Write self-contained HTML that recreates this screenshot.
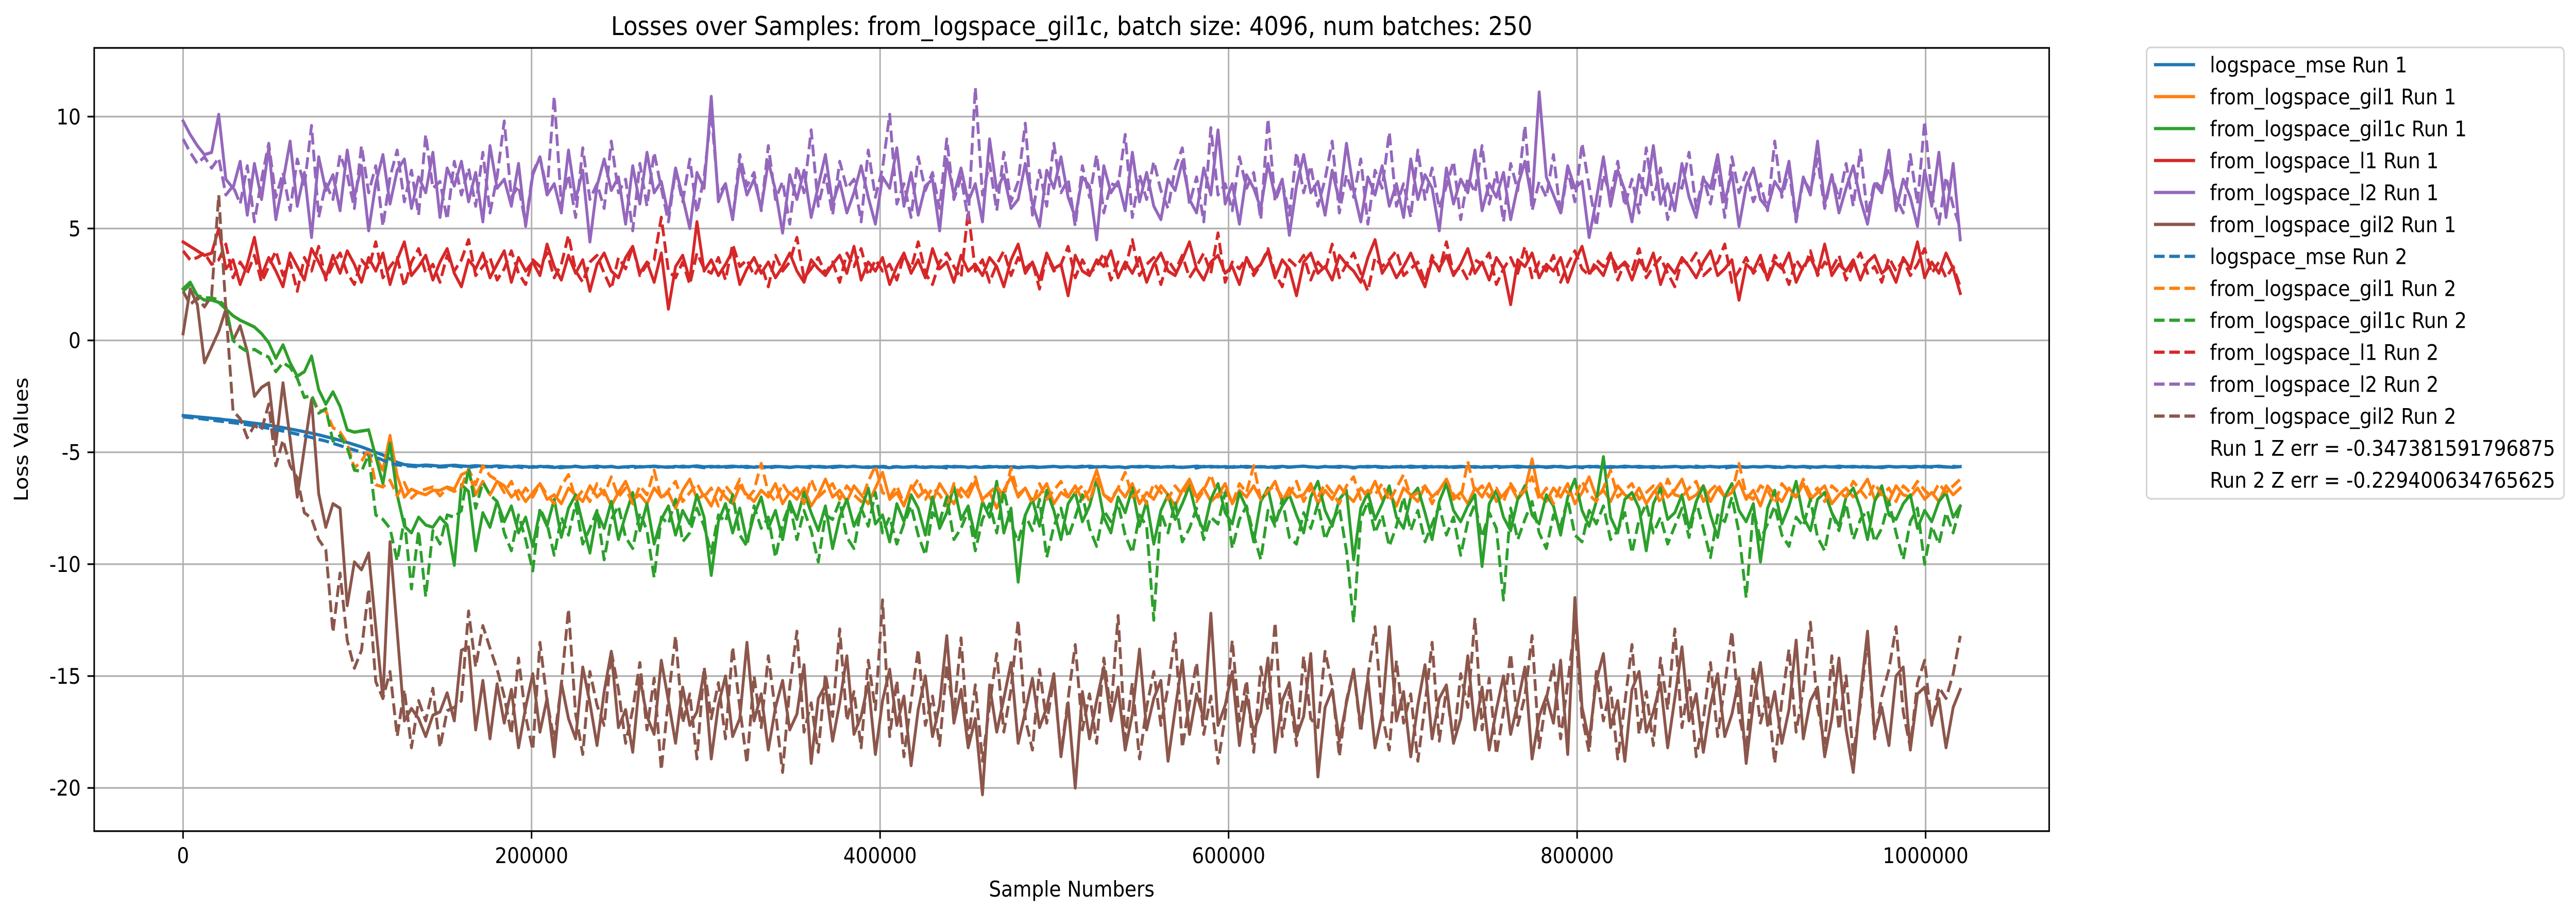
<!DOCTYPE html>
<html><head><meta charset="utf-8"><title>Losses over Samples</title>
<style>html,body{margin:0;padding:0;background:#fff;width:100%;height:100%;overflow:hidden;}svg{display:block;width:100vw;height:100vh;font-family:"DejaVu Sans","Liberation Sans",sans-serif;}</style>
</head><body>
<svg id="chart" xmlns="http://www.w3.org/2000/svg" viewBox="0 0 5579 1768" preserveAspectRatio="none">
<rect x="0" y="0" width="5579" height="1768" fill="#fff"/>
<text x="2321" y="68" font-size="50" text-anchor="middle">Losses over Samples: from_logspace_gil1c, batch size: 4096, num batches: 250</text>
<g id="grid"></g>
<g id="series" clip-path="url(#clip)"></g>
<defs><clipPath id="clip"><rect x="204" y="93" width="4234" height="1520"/></clipPath></defs>
<rect x="204" y="93" width="4234" height="1520" fill="none" stroke="#000" stroke-width="3.3"/>
<g id="ticks"></g>
<text x="2321" y="1740" font-size="41.7" text-anchor="middle">Sample Numbers</text>
<text x="60" y="853" font-size="41.7" text-anchor="middle" transform="rotate(-90 60 853)">Loss Values</text>
<g id="legend">
<rect x="4649" y="92" width="904" height="876" rx="9" fill="#fff" stroke="#d4d4d4" stroke-width="3.3"/>
</g>
</svg>
<script>
const batchSize = 4096;
const xTicks = [0, 200000, 400000, 600000, 800000, 1000000];
const yTicks = [-20, -15, -10, -5, 0, 5, 10];
const seriesNames = ["logspace_mse Run 1","from_logspace_gil1 Run 1","from_logspace_gil1c Run 1","from_logspace_l1 Run 1","from_logspace_l2 Run 1","from_logspace_gil2 Run 1","logspace_mse Run 2","from_logspace_gil1 Run 2","from_logspace_gil1c Run 2","from_logspace_l1 Run 2","from_logspace_l2 Run 2","from_logspace_gil2 Run 2"];
const extraLegend = ["Run 1 Z err = -0.347381591796875","Run 2 Z err = -0.229400634765625"];

const mse1 = [-3.36,-3.39,-3.42,-3.45,-3.48,-3.51,-3.55,-3.58,-3.62,-3.66,-3.7,-3.74,-3.79,-3.84,-3.9,-3.96,-4.02,-4.08,-4.15,-4.22,-4.3,-4.38,-4.47,-4.56,-4.66,-4.76,-4.88,-5.0,-5.12,-5.3,-5.45,-5.55,
-5.58,-5.6,-5.57,-5.59,-5.62,-5.6,-5.58,-5.61,-5.63,-5.6,-5.62,-5.64,-5.61,-5.63,-5.66,-5.62,-5.64,-5.67,-5.63,-5.65,
-5.68,-5.64,-5.66,-5.63,-5.67,-5.65,-5.62,-5.66,-5.64,-5.68,-5.65,-5.63,-5.66,-5.64,-5.62,-5.65,-5.67,-5.63,-5.66,-5.64,
-5.61,-5.65,-5.63,-5.66,-5.64,-5.62,-5.65,-5.63,-5.67,-5.64,-5.66,-5.63,-5.65,-5.68,-5.64,-5.66,-5.63,-5.65,-5.67,-5.64,
-5.62,-5.65,-5.63,-5.66,-5.68,-5.64,-5.66,-5.69,-5.65,-5.67,-5.64,-5.66,-5.68,-5.65,-5.67,-5.63,-5.66,-5.64,-5.67,-5.65,
-5.68,-5.66,-5.64,-5.67,-5.65,-5.69,-5.66,-5.64,-5.67,-5.65,-5.63,-5.66,-5.64,-5.67,-5.65,-5.62,-5.66,-5.64,-5.67,-5.65,
-5.68,-5.64,-5.66,-5.63,-5.65,-5.67,-5.64,-5.66,-5.68,-5.65,-5.62,-5.65,-5.63,-5.66,-5.64,-5.67,-5.65,-5.63,-5.66,-5.64,
-5.67,-5.65,-5.63,-5.66,-5.64,-5.62,-5.65,-5.67,-5.64,-5.66,-5.63,-5.65,-5.68,-5.64,-5.66,-5.63,-5.65,-5.67,-5.64,-5.66,
-5.62,-5.65,-5.63,-5.66,-5.64,-5.67,-5.65,-5.63,-5.66,-5.64,-5.67,-5.65,-5.63,-5.66,-5.64,-5.62,-5.65,-5.67,-5.64,-5.66,
-5.63,-5.65,-5.68,-5.64,-5.66,-5.63,-5.65,-5.67,-5.64,-5.66,-5.62,-5.65,-5.63,-5.66,-5.64,-5.67,-5.65,-5.63,-5.66,-5.64,
-5.67,-5.65,-5.63,-5.66,-5.64,-5.62,-5.65,-5.67,-5.64,-5.66,-5.63,-5.65,-5.68,-5.64,-5.66,-5.63,-5.65,-5.67,-5.64,-5.66,
-5.62,-5.65,-5.63,-5.66,-5.64,-5.67,-5.65,-5.63,-5.66,-5.64,-5.65,-5.63,-5.66,-5.64,-5.62,-5.65,-5.67,-5.64];
const mse2 = [-3.42,-3.45,-3.48,-3.52,-3.56,-3.6,-3.64,-3.68,-3.72,-3.77,-3.82,-3.87,-3.93,-3.99,-4.05,-4.12,-4.19,-4.26,-4.34,-4.42,-4.5,-4.6,-4.7,-4.8,-4.9,-5.0,-5.1,-5.22,-5.35,-5.48,-5.56,-5.6,
-5.62,-5.65,-5.6,-5.63,-5.66,-5.64,-5.61,-5.65,-5.68,-5.63,-5.66,-5.64,-5.69,-5.65,-5.62,-5.66,-5.7,-5.64,-5.67,-5.63,
-5.66,-5.69,-5.65,-5.62,-5.67,-5.64,-5.68,-5.66,-5.63,-5.67,-5.65,-5.7,-5.64,-5.66,-5.63,-5.68,-5.65,-5.67,-5.62,-5.66,
-5.64,-5.69,-5.66,-5.63,-5.67,-5.65,-5.62,-5.68,-5.64,-5.66,-5.7,-5.65,-5.63,-5.67,-5.64,-5.66,-5.69,-5.63,-5.65,-5.68,
-5.64,-5.66,-5.62,-5.67,-5.65,-5.69,-5.63,-5.66,-5.64,-5.68,-5.65,-5.62,-5.67,-5.64,-5.66,-5.7,-5.63,-5.65,-5.68,-5.64,
-5.66,-5.63,-5.67,-5.65,-5.62,-5.68,-5.64,-5.66,-5.69,-5.65,-5.63,-5.67,-5.64,-5.66,-5.62,-5.68,-5.65,-5.63,-5.67,-5.64,
-5.69,-5.66,-5.63,-5.65,-5.68,-5.64,-5.66,-5.62,-5.67,-5.65,-5.7,-5.63,-5.66,-5.64,-5.68,-5.65,-5.62,-5.67,-5.64,-5.66,
-5.63,-5.69,-5.65,-5.67,-5.64,-5.62,-5.66,-5.68,-5.63,-5.65,-5.67,-5.64,-5.7,-5.66,-5.63,-5.65,-5.68,-5.64,-5.66,-5.62,
-5.67,-5.65,-5.69,-5.63,-5.66,-5.64,-5.68,-5.65,-5.62,-5.67,-5.64,-5.66,-5.7,-5.65,-5.63,-5.67,-5.64,-5.66,-5.62,-5.68,
-5.65,-5.63,-5.67,-5.64,-5.69,-5.66,-5.63,-5.65,-5.68,-5.64,-5.66,-5.62,-5.67,-5.65,-5.69,-5.63,-5.66,-5.64,-5.68,-5.65,
-5.62,-5.67,-5.64,-5.66,-5.7,-5.65,-5.63,-5.67,-5.64,-5.66,-5.62,-5.68,-5.65,-5.63,-5.67,-5.64,-5.69,-5.66,-5.63,-5.65,
-5.68,-5.64,-5.66,-5.62,-5.67,-5.65,-5.69,-5.63,-5.66,-5.64,-5.68,-5.65,-5.62,-5.67,-5.64,-5.66,-5.63,-5.65];

const gil1c1 = [2.3,2.6,2.0,1.8,1.8,1.7,1.4,1.1,0.9,0.75,0.6,0.3,-0.1,-0.8,-0.2,-1.0,-1.6,-1.4,-0.7,-2.2,-2.85,-2.3,-2.95,-4.0,-4.1,-4.05,-4.0,-5.2,-6.4,-4.6,-6.9,-8.3,-8.6,-7.9,-8.25,-8.35,-7.9,-8.25,-10.05,-6.45,-6.75,-9.4,-7.7,-8.35,-7.2,
-8.1,-7.4,-8.6,-7.9,-9.2,-7.6,-8.3,-7.1,-8.8,-7.5,-6.9,-8.2,-9.5,-7.7,-8.4,-7.2,-8.9,-7.8,-6.8,-8.5,
-7.3,-9.1,-8.0,-7.4,-8.7,-7.6,-8.2,-6.9,-7.9,-10.5,-8.1,-7.3,-8.6,-7.5,-9.0,-7.8,-7.0,-8.4,-7.6,-8.9,
-7.2,-8.0,-6.8,-7.7,-8.5,-7.4,-9.3,-7.9,-7.1,-8.3,-7.6,-6.6,-8.2,-7.8,-9.0,-7.3,-8.1,-6.9,-7.5,-8.7,
-7.0,-8.4,-7.7,-6.5,-8.0,-7.4,-8.8,-7.2,-7.9,-6.3,-8.6,-7.5,-10.8,-7.8,-7.1,-8.3,-6.7,-7.6,-8.9,-7.3,
-6.8,-8.1,-7.4,-6.2,-7.9,-8.6,-7.0,-7.7,-6.6,-8.3,-7.2,-9.1,-7.6,-6.9,-8.0,-7.3,-6.5,-7.8,-8.5,-7.1,
-6.4,-7.7,-8.2,-6.8,-7.5,-9.0,-7.2,-6.6,-8.1,-7.4,-6.9,-7.8,-8.6,-7.0,-6.3,-7.6,-8.3,-7.1,-6.7,-9.8,
-7.5,-6.8,-8.0,-7.3,-6.5,-7.9,-8.4,-7.0,-6.6,-7.7,-8.9,-7.2,-6.4,-7.6,-8.1,-7.4,-6.9,-10.1,-7.3,-6.7,
-7.9,-8.5,-7.1,-6.5,-7.8,-8.2,-6.9,-7.4,-8.7,-7.0,-6.2,-7.6,-8.3,-7.2,-5.2,-7.9,-8.6,-7.1,-6.8,-7.5,
-9.4,-7.3,-6.6,-8.0,-7.7,-6.9,-8.4,-7.2,-6.5,-7.8,-8.8,-7.0,-6.4,-7.6,-8.1,-7.3,-9.9,-7.5,-6.7,-8.2,
-7.4,-6.3,-7.9,-8.5,-7.1,-6.8,-7.7,-8.3,-7.0,-6.6,-7.5,-8.9,-7.2,-6.5,-7.8,-8.0,-7.3,-6.9,-8.4,-7.6,
-8.1,-7.2,-6.8,-7.9,-7.4];
const gil11 = [2.3,2.6,2.0,1.8,1.8,1.7,1.4,1.1,0.9,0.75,0.6,0.3,-0.1,-0.8,-0.2,-1.0,-1.6,-1.4,-0.7,-2.2,-2.85,-2.3,-2.95,-4.0,-4.1,-4.05,-4.0,-5.2,-5.8,-4.25,-6.05,-7.0,-6.65,-6.8,-6.9,-6.7,-6.7,-6.55,-6.65,-6.0,-5.85,-6.9,-6.3,-6.9,-6.3,
-6.5,-7.0,-6.7,-7.2,-6.8,-6.4,-7.1,-6.9,-7.3,-6.6,-6.9,-7.2,-6.5,-7.0,-6.7,-7.4,-6.8,-6.3,-7.1,-6.9,
-7.3,-6.6,-7.0,-6.8,-7.5,-6.7,-6.2,-7.1,-6.9,-7.4,-6.6,-7.0,-7.3,-6.5,-6.9,-7.2,-6.7,-7.0,-6.4,-7.3,
-6.8,-7.1,-6.6,-7.4,-6.9,-6.2,-7.0,-6.7,-7.2,-6.5,-6.9,-7.3,-6.6,-5.9,-7.1,-6.8,-7.4,-6.5,-7.0,-6.7,
-7.2,-6.4,-6.9,-7.3,-6.6,-7.0,-6.3,-7.1,-6.8,-7.5,-6.7,-6.1,-7.0,-6.6,-7.2,-6.9,-6.4,-7.3,-6.8,-7.0,
-6.5,-7.1,-6.7,-5.8,-6.9,-7.2,-6.6,-7.0,-6.4,-7.3,-6.8,-7.1,-6.5,-6.9,-7.4,-6.7,-6.2,-7.0,-6.6,-7.2,
-6.9,-6.4,-7.3,-6.7,-7.0,-6.5,-7.1,-6.8,-6.3,-7.2,-6.6,-7.0,-6.9,-6.4,-7.3,-6.7,-7.1,-6.5,-6.9,-7.2,
-6.6,-7.0,-6.3,-7.1,-6.8,-7.4,-6.6,-6.9,-7.2,-6.5,-7.0,-6.7,-6.2,-7.1,-6.8,-7.3,-6.6,-7.0,-6.4,-7.2,
-6.9,-6.5,-7.1,-6.7,-5.3,-6.9,-7.2,-6.6,-7.0,-6.4,-7.3,-6.8,-6.1,-7.0,-6.7,-7.2,-6.5,-6.9,-7.1,-6.6,
-7.3,-6.8,-6.4,-7.0,-6.7,-6.2,-7.1,-6.9,-6.5,-7.2,-6.6,-7.0,-6.8,-6.3,-7.1,-6.7,-7.4,-6.5,-6.9,-7.2,
-6.6,-7.0,-6.4,-7.1,-6.8,-6.5,-7.3,-6.9,-6.6,-7.0,-6.7,-6.2,-7.1,-6.8,-7.2,-6.5,-6.9,-7.0,-6.6,-7.1,
-6.8,-7.2,-6.5,-6.9,-6.6];
const gil1c2 = [2.2,2.5,2.0,1.9,1.9,1.8,1.5,0.0,-0.3,-0.5,-0.4,-0.6,-0.75,-1.4,-1.0,-1.2,-1.7,-2.55,-2.45,-3.25,-3.05,-4.5,-4.25,-4.8,-5.8,-5.85,-5.1,-7.8,-8.0,-8.4,-9.85,-8.0,-11.1,-8.5,-11.45,-8.5,-9.1,-7.8,-7.9,-7.6,-5.7,-7.5,-6.35,-6.9,
-7.2,-8.6,-9.4,-7.8,-8.9,-10.3,-7.5,-8.2,-9.6,-7.9,-8.7,-7.3,-9.1,-8.4,-7.6,-9.8,-8.0,-7.4,-8.8,-9.3,
-7.7,-8.5,-10.6,-7.9,-8.2,-7.1,-9.0,-8.6,-7.5,-8.3,-9.5,-7.8,-8.1,-6.9,-8.7,-9.2,-7.4,-8.4,-7.9,-9.7,
-8.2,-7.3,-8.9,-7.6,-8.5,-9.9,-7.8,-8.0,-7.2,-8.8,-9.3,-7.5,-8.3,-6.8,-8.6,-7.9,-9.1,-8.2,-7.4,-8.7,
-9.6,-7.7,-8.1,-7.0,-8.9,-8.4,-7.6,-9.4,-8.0,-7.3,-8.6,-6.7,-8.2,-9.0,-7.8,-8.5,-7.1,-9.7,-8.3,-7.5,
-8.8,-7.9,-6.9,-8.4,-9.2,-7.6,-8.1,-7.3,-8.7,-9.5,-7.8,-8.3,-12.5,-7.7,-8.6,-7.2,-9.0,-8.4,-7.5,-8.9,
-7.9,-8.2,-6.8,-9.3,-8.0,-7.4,-8.7,-9.8,-7.6,-8.3,-7.1,-8.8,-9.1,-7.7,-8.4,-7.3,-8.9,-8.1,-7.5,-9.4,
-12.6,-8.0,-7.2,-8.6,-7.8,-9.2,-8.3,-7.0,-8.5,-7.6,-9.0,-8.2,-7.4,-8.7,-7.9,-9.6,-8.1,-7.3,-8.8,-7.7,
-8.4,-11.6,-7.5,-8.9,-8.0,-7.2,-8.6,-9.3,-7.8,-8.3,-7.1,-8.7,-9.0,-7.6,-8.2,-7.4,-8.9,-8.5,-7.7,-9.5,
-8.0,-7.3,-8.6,-7.9,-9.1,-8.3,-7.5,-8.8,-7.2,-8.4,-9.7,-7.8,-8.1,-7.0,-8.6,-11.5,-7.6,-8.9,-8.2,-7.4,
-8.7,-9.2,-7.9,-8.3,-7.1,-8.8,-9.4,-7.7,-8.5,-7.3,-8.9,-8.0,-7.6,-9.0,-8.4,-7.2,-8.6,-9.8,-8.1,-7.5,
-10.0,-8.3,-9.1,-7.7,-8.6,-7.4];
const gil12 = [2.2,2.5,2.0,1.9,1.9,1.8,1.5,0.0,-0.3,-0.5,-0.4,-0.6,-0.75,-1.4,-1.0,-1.2,-1.7,-2.55,-2.45,-3.15,-3.15,-3.9,-4.1,-4.6,-5.7,-5.4,-4.85,-6.45,-6.55,-6.25,-6.95,-6.35,-7.05,-6.75,-6.65,-6.55,-6.95,-6.6,-6.75,-6.55,-5.75,-6.45,-5.6,-6.05,-6.25,
-6.8,-6.3,-7.1,-6.6,-7.0,-6.4,-6.9,-7.3,-6.5,-6.0,-7.1,-6.7,-7.2,-6.4,-6.9,-6.1,-7.0,-6.6,-7.3,-6.5,
-6.9,-5.8,-7.1,-6.7,-6.3,-7.2,-6.8,-6.4,-7.0,-6.6,-7.4,-6.5,-6.9,-6.2,-7.1,-6.7,-5.5,-6.8,-7.2,-6.4,
-6.9,-6.6,-7.3,-6.2,-7.0,-6.7,-6.4,-7.1,-6.5,-6.9,-7.2,-6.3,-5.6,-6.8,-7.0,-6.5,-7.3,-6.7,-6.2,-7.1,
-6.6,-6.9,-7.4,-6.4,-7.0,-6.7,-6.1,-7.2,-6.8,-6.5,-7.0,-5.7,-6.9,-6.6,-7.3,-6.4,-7.1,-6.7,-6.3,-7.0,
-6.8,-6.5,-7.2,-6.2,-6.9,-7.1,-6.6,-5.9,-7.0,-6.7,-7.3,-6.4,-6.8,-7.1,-6.5,-6.9,-6.3,-7.2,-6.7,-6.0,
-7.0,-6.6,-7.3,-6.4,-6.8,-5.6,-7.1,-6.7,-6.5,-7.0,-6.9,-6.3,-7.2,-6.6,-7.0,-6.4,-6.8,-7.3,-6.5,-6.1,
-7.1,-6.7,-6.9,-6.4,-7.2,-6.6,-6.0,-7.0,-6.8,-6.5,-7.3,-6.7,-6.2,-6.9,-7.1,-5.4,-6.8,-6.5,-7.0,-6.6,
-7.2,-6.4,-6.9,-6.7,-6.1,-7.1,-6.6,-7.3,-6.5,-6.8,-7.0,-6.3,-6.9,-7.2,-6.6,-5.8,-7.0,-6.7,-6.4,-7.1,
-6.8,-6.5,-7.3,-6.2,-6.9,-7.0,-6.6,-6.3,-7.2,-6.7,-6.4,-7.0,-6.8,-5.5,-6.9,-7.1,-6.5,-6.7,-7.3,-6.4,
-6.8,-7.0,-6.2,-6.9,-6.6,-7.2,-6.5,-6.8,-7.0,-6.3,-6.7,-7.1,-6.4,-6.9,-6.6,-7.2,-6.5,-6.8,-6.3,-6.7,
-7.0,-6.4,-6.8,-6.5,-6.2];
const l11 = [4.4,4.2,4.0,3.8,3.9,5.0,3.2,3.6,2.5,3.4,4.6,2.9,3.7,3.1,2.4,3.9,3.3,2.7,4.1,3.5,
2.8,3.8,3.0,4.0,3.4,2.6,3.7,3.1,3.9,2.5,3.6,4.4,2.9,3.3,3.8,2.7,3.5,4.1,3.0,2.4,
3.6,3.2,3.9,2.8,3.4,4.0,2.6,3.7,3.1,3.5,2.9,4.3,3.3,2.7,3.8,3.0,3.6,2.2,3.4,3.9,
3.1,2.8,3.7,4.2,3.0,3.5,2.6,3.9,1.4,3.3,3.8,2.7,5.3,3.1,3.6,2.9,3.4,4.0,2.5,3.2,
3.7,3.0,3.5,2.8,3.3,3.9,3.1,2.6,3.6,3.2,2.9,3.4,3.8,3.0,4.2,2.7,3.5,3.1,3.7,2.5,
3.3,3.9,3.0,3.6,2.8,4.1,3.2,3.5,2.6,3.8,3.1,3.4,2.9,3.7,3.3,2.4,3.6,4.3,3.0,3.5,
2.7,3.9,3.2,3.4,2.0,3.8,3.1,2.9,3.6,3.3,4.0,2.8,3.5,3.0,3.7,2.6,3.4,3.9,3.1,2.9,
3.6,4.4,3.2,2.7,3.5,3.8,3.0,3.3,2.5,3.7,3.1,3.4,4.0,2.8,3.6,3.2,2.0,3.5,3.9,3.0,
3.3,2.7,3.8,3.4,3.1,2.6,3.7,4.5,3.0,3.5,2.8,3.3,3.9,3.1,2.4,3.6,3.2,3.8,2.9,3.4,
4.1,3.0,3.5,2.7,3.7,3.2,1.6,3.6,3.3,3.9,2.8,3.4,3.1,3.7,2.6,3.5,4.2,3.0,3.3,2.9,
3.8,3.2,3.5,2.7,3.6,3.1,3.9,2.5,3.4,3.0,3.7,3.3,2.8,3.5,4.0,2.9,3.2,3.6,1.8,3.4,
3.1,3.8,2.7,3.5,3.2,3.9,2.6,3.3,3.7,3.0,4.3,2.9,3.4,3.1,3.6,2.7,3.5,3.8,3.0,3.3,
2.6,3.7,3.2,4.4,2.8,3.5,3.0,3.9,3.2,2.1];
const l12 = [4.0,3.6,3.7,3.9,3.4,3.6,4.3,2.8,3.5,3.0,3.8,2.6,3.3,4.0,2.9,3.5,2.2,3.7,3.1,4.2,
2.7,3.4,3.9,3.0,2.5,3.6,3.2,4.4,2.8,3.3,3.7,2.4,3.5,4.1,3.0,3.4,2.6,3.8,3.1,3.6,
4.5,2.9,3.3,3.7,2.7,3.2,4.0,3.0,2.5,3.6,3.3,3.9,2.8,3.4,4.7,3.1,2.6,3.5,3.8,3.0,
2.3,3.7,3.2,4.2,2.9,3.4,3.6,5.5,3.1,2.8,3.5,2.5,3.9,3.2,3.0,3.7,2.7,4.3,3.3,3.6,
2.9,3.4,2.4,3.8,3.1,3.5,4.6,2.8,3.2,3.7,3.0,3.5,2.6,3.9,3.3,4.1,2.9,3.6,3.1,3.4,
2.7,3.8,3.2,4.4,3.0,2.5,3.5,3.9,3.3,2.8,5.8,3.1,3.6,2.6,3.4,4.0,2.9,3.7,3.2,3.5,
2.3,3.8,3.1,3.4,4.2,2.8,3.6,3.0,3.3,3.9,2.7,3.5,3.2,4.5,2.9,3.4,3.7,2.5,3.6,3.1,
3.8,2.8,3.3,3.9,3.0,4.8,2.6,3.5,3.2,3.7,2.9,3.4,4.1,3.0,2.4,3.6,3.3,3.8,2.7,3.5,
3.1,4.3,2.8,3.4,3.9,3.0,2.2,3.7,3.3,3.6,4.0,2.9,3.2,3.5,2.6,3.8,3.1,4.4,3.0,3.3,
2.7,3.6,3.4,3.9,2.5,3.2,3.7,3.0,4.2,2.8,3.5,3.1,3.8,2.6,3.4,4.0,3.2,2.9,3.6,3.3,
3.9,2.7,3.5,3.1,4.1,2.8,3.3,3.7,3.0,2.4,3.6,3.4,3.9,2.9,3.2,3.5,4.3,2.6,3.1,3.7,
3.0,3.4,2.8,3.8,3.3,2.5,3.6,3.1,4.0,2.9,3.5,3.2,3.8,2.7,3.4,3.9,3.0,3.3,2.6,3.7,
3.1,3.6,2.9,3.4,4.1,3.0,3.5,2.8,3.3,2.4];
const l21 = [9.8,9.2,8.7,8.3,8.4,10.1,7.2,6.8,8.0,5.6,7.9,6.3,8.6,5.4,7.1,8.9,6.0,7.5,4.6,8.2,
6.7,7.4,5.8,8.5,6.4,7.8,4.9,7.0,8.3,6.1,7.6,8.1,5.9,7.3,6.6,8.4,5.5,7.7,6.9,8.0,
6.2,7.5,5.3,8.7,6.8,7.2,6.0,7.9,5.1,7.4,8.2,6.5,7.0,5.7,8.5,6.3,7.6,4.4,6.9,8.1,
6.7,7.3,5.2,7.8,6.1,8.4,6.6,7.1,5.6,7.7,6.4,5.0,7.5,6.8,10.9,6.2,7.0,5.4,7.9,6.5,
7.2,5.9,8.0,6.7,4.8,7.4,6.3,7.6,5.5,6.9,8.3,6.1,7.1,5.7,6.6,7.8,6.4,5.2,7.3,6.8,
8.6,6.0,7.5,5.6,6.9,7.2,4.9,8.1,6.5,7.7,6.2,7.0,5.3,9.0,6.7,7.4,5.9,6.3,7.9,6.1,
5.1,7.6,6.8,8.2,6.4,5.5,7.3,6.9,4.5,7.8,6.6,7.1,5.8,8.4,6.2,7.5,6.0,5.4,7.2,6.7,
8.0,6.3,5.7,7.7,6.5,9.4,6.1,7.0,5.2,7.4,6.8,5.9,7.9,6.4,7.2,4.7,6.9,8.3,6.6,7.1,
5.6,7.6,6.2,8.8,6.7,5.3,7.3,6.5,7.8,6.0,7.0,5.5,8.1,6.3,7.4,6.8,4.9,7.7,6.1,7.2,
6.6,8.5,5.8,7.0,6.4,7.5,5.4,6.9,8.0,6.2,11.1,7.3,6.5,5.7,7.8,6.8,7.1,4.6,6.3,8.2,
6.0,7.6,6.7,5.3,7.4,6.5,8.7,6.1,7.0,5.8,7.9,6.4,5.5,7.2,6.8,8.3,6.2,7.5,5.1,6.9,
7.7,6.3,5.9,7.1,6.6,8.0,5.4,7.3,6.5,8.9,6.1,7.4,5.7,6.8,7.8,6.3,5.2,7.0,6.6,8.5,
5.8,7.2,6.4,5.1,7.6,6.0,8.4,5.5,7.9,4.5];
const l22 = [9.0,8.4,7.9,8.2,7.7,8.15,6.5,6.9,6.1,7.8,5.3,7.2,8.8,6.4,7.5,5.8,8.1,6.9,9.6,5.5,
7.0,6.3,8.3,7.4,5.9,8.7,6.6,7.8,5.1,7.3,8.5,6.2,7.6,5.6,9.2,6.8,7.1,5.4,8.0,6.5,
7.7,6.0,8.4,5.7,7.3,9.8,6.4,6.9,5.2,7.5,8.2,6.7,10.9,6.1,7.4,5.5,8.6,6.3,7.0,5.9,
8.9,6.6,7.2,4.9,7.9,6.0,8.4,6.8,5.3,7.6,6.2,8.1,5.7,7.3,10.2,6.5,7.0,5.4,8.3,6.9,
7.5,5.8,8.7,6.3,7.1,5.2,7.8,6.6,9.4,6.0,7.4,5.6,8.0,6.8,7.2,5.3,8.5,6.4,7.7,10.1,
6.1,7.0,5.5,8.2,6.7,7.5,5.9,9.0,6.3,7.3,5.4,11.3,6.5,7.9,5.8,8.4,6.2,7.1,9.7,5.6,
7.6,6.0,8.8,6.6,7.2,5.1,7.8,6.4,8.3,5.7,7.0,6.9,9.2,5.5,7.4,6.3,8.0,6.7,5.9,7.7,
8.6,6.1,7.3,5.3,9.5,6.5,7.0,5.8,8.2,6.8,7.5,5.4,9.9,6.2,7.1,5.6,8.4,6.6,7.8,6.0,
7.2,8.9,5.7,7.4,6.4,8.1,5.2,7.6,6.8,9.3,6.0,7.0,5.5,8.5,6.3,7.7,5.9,6.9,8.0,5.4,
7.3,6.6,8.7,6.1,7.5,5.3,7.9,6.7,9.6,5.8,7.1,6.4,8.3,5.6,7.6,6.2,8.8,6.9,5.1,7.4,
6.5,8.0,6.0,7.2,5.7,8.6,6.3,7.7,5.4,7.0,6.8,8.4,5.9,7.3,6.1,7.8,5.5,8.2,6.6,7.5,
6.2,7.0,5.8,8.9,6.4,7.6,5.3,7.2,6.7,8.1,5.9,7.4,6.3,7.9,6.0,8.5,5.6,7.1,6.8,7.7,
6.4,5.7,8.3,6.1,9.8,6.5,5.2,7.3,6.0,5.0];
const gil21 = [0.3,2.3,1.6,-1.0,-0.3,0.4,1.4,0.0,0.65,-0.5,-2.5,-2.1,-1.9,-4.65,-1.9,-4.4,-7.0,-4.8,-2.65,-6.85,-8.35,-7.3,-7.5,-11.85,-9.9,-10.25,-9.5,-12.8,-16.0,-9.0,-13.0,-17.0,-16.45,-16.9,-17.7,-16.75,-16.6,-15.75,-17.0,-13.85,-13.7,-17.4,-15.2,-17.8,-15.35,
-17.1,-15.6,-18.2,-16.4,-14.9,-17.5,-16.0,-18.6,-15.3,-16.9,-17.8,-14.6,-16.2,-18.1,-15.7,-13.9,-17.3,-16.5,-18.4,-15.1,
-16.8,-17.6,-14.3,-16.1,-18.0,-15.5,-17.2,-16.6,-14.8,-18.7,-16.3,-15.0,-17.7,-16.9,-13.5,-17.0,-15.8,-18.3,-16.4,-15.2,
-17.4,-16.7,-14.5,-18.9,-16.0,-15.4,-17.9,-16.2,-14.1,-17.6,-16.8,-15.3,-18.5,-16.1,-14.7,-17.2,-15.9,-19.0,-16.5,-15.0,
-17.7,-16.3,-13.2,-17.1,-15.6,-18.2,-16.9,-20.3,-15.4,-17.5,-16.0,-14.4,-18.0,-16.6,-15.1,-17.3,-16.4,-14.9,-18.6,-16.2,
-20.0,-15.7,-17.8,-16.1,-14.6,-17.0,-15.5,-18.3,-16.7,-13.8,-17.4,-16.0,-15.2,-18.8,-16.5,-14.3,-17.6,-15.8,-16.9,-12.2,
-17.2,-16.3,-14.8,-18.1,-15.9,-17.5,-16.6,-14.2,-18.4,-16.1,-15.3,-17.7,-16.8,-14.0,-19.5,-16.4,-15.6,-17.9,-16.2,-14.7,
-17.3,-15.1,-18.2,-16.7,-12.8,-17.0,-15.7,-18.6,-16.3,-14.5,-17.8,-16.0,-15.4,-18.0,-16.9,-14.1,-17.4,-15.5,-18.3,-16.5,
-15.0,-17.6,-16.2,-14.6,-18.7,-16.8,-15.9,-17.1,-14.3,-18.5,-11.5,-16.4,-17.9,-15.2,-14.0,-17.3,-16.1,-18.8,-15.6,-14.8,
-17.5,-16.6,-15.3,-18.2,-16.0,-13.7,-17.0,-15.8,-18.4,-16.3,-14.9,-17.7,-16.7,-15.1,-18.9,-16.2,-14.4,-17.2,-15.7,-18.0,
-16.5,-13.4,-17.8,-16.1,-15.5,-18.6,-16.9,-14.2,-17.4,-19.3,-15.9,-13.0,-17.6,-16.4,-18.1,-15.0,-14.6,-18.3,-15.8,-15.5,
-17.1,-16.0,-18.2,-16.4,-15.6];
const gil22 = [2.2,1.6,1.9,1.5,2.0,6.5,1.4,-3.15,-3.5,-4.35,-3.8,-4.0,-2.85,-5.6,-4.45,-5.6,-6.15,-7.7,-7.95,-8.9,-9.35,-13.05,-10.4,-13.4,-14.65,-13.85,-11.1,-15.25,-16.0,-14.8,-17.7,-15.6,-18.2,-16.1,-17.0,-15.55,-18.2,-16.55,-16.4,-16.1,-12.1,-14.6,-12.75,-13.75,-14.7,
-15.9,-17.6,-14.2,-16.8,-18.3,-13.5,-16.1,-17.9,-15.4,-12.0,-16.7,-18.5,-14.8,-16.3,-17.2,-13.9,-15.6,-18.0,-16.5,-14.4,
-17.4,-15.1,-19.2,-16.0,-13.2,-17.1,-15.8,-18.7,-14.6,-16.9,-15.3,-17.8,-13.7,-16.4,-18.9,-15.0,-17.3,-14.1,-16.6,-19.3,
-15.5,-13.0,-17.5,-16.2,-18.4,-14.9,-16.8,-12.9,-17.0,-15.7,-18.2,-14.3,-16.5,-11.6,-17.7,-15.2,-18.6,-16.1,-13.8,-17.2,
-15.9,-18.1,-14.5,-16.7,-13.3,-17.9,-15.4,-18.8,-16.3,-14.0,-17.5,-15.6,-12.5,-16.9,-18.3,-14.7,-17.1,-15.1,-18.5,-16.0,
-13.6,-17.4,-15.8,-18.0,-14.2,-16.6,-12.3,-17.8,-15.3,-18.7,-16.4,-14.8,-17.2,-15.5,-13.1,-18.2,-16.2,-14.4,-17.6,-15.9,
-18.9,-16.8,-13.4,-17.0,-15.2,-18.4,-14.6,-16.5,-12.6,-17.7,-15.7,-18.1,-14.1,-16.9,-17.3,-13.9,-15.4,-18.6,-16.1,-14.7,
-17.5,-15.0,-12.8,-16.7,-18.3,-14.3,-17.1,-15.8,-18.8,-16.3,-13.5,-17.9,-15.6,-18.0,-14.9,-16.4,-12.4,-17.4,-15.1,-18.5,
-16.6,-14.0,-17.2,-15.9,-13.2,-18.2,-16.0,-14.5,-17.8,-15.3,-12.7,-16.8,-18.4,-14.8,-17.0,-15.5,-18.7,-16.2,-13.6,-17.6,
-15.7,-18.1,-14.2,-16.5,-12.9,-17.3,-15.2,-18.6,-16.9,-14.4,-17.7,-15.4,-13.0,-16.7,-18.3,-14.6,-17.1,-15.8,-18.9,-16.1,
-13.8,-17.5,-15.6,-12.6,-16.4,-18.0,-14.1,-17.4,-15.0,-18.5,-16.3,-13.3,-17.8,-15.9,-14.7,-12.8,-16.6,-18.2,-15.3,-14.3,
-17.2,-15.5,-16.0,-14.9,-13.2];

const seriesValues = [mse1, gil11, gil1c1, l11, l21, gil21, mse2, gil12, gil1c2, l12, l22, gil22];
const seriesColors = ["#1f77b4","#ff7f0e","#2ca02c","#d62728","#9467bd","#8c564b","#1f77b4","#ff7f0e","#2ca02c","#d62728","#9467bd","#8c564b"];

const NS = "http://www.w3.org/2000/svg";
const plotL = 204, plotR = 4438, plotT = 93, plotB = 1613;
const xMin = -50995, xMax = 1070899, yMin = -21.93, yMax = 13.07;
function xs(v){ return plotL + (v - xMin) / (xMax - xMin) * (plotR - plotL); }
function ys(v){ return plotB - (v - yMin) / (yMax - yMin) * (plotB - plotT); }
function mk(tag, attrs){ const e = document.createElementNS(NS, tag); for (const k in attrs) e.setAttribute(k, attrs[k]); return e; }

const grid = document.getElementById('grid');
const ticks = document.getElementById('ticks');
xTicks.forEach(function(t){
  const gx = xs(t);
  const gl = mk('line', {x1:gx, x2:gx, y1:plotT, y2:plotB, stroke:'#b0b0b0', 'stroke-width':3.3});
  
  
  grid.appendChild(gl);
  const tk = mk('line', {x1:gx, x2:gx, y1:plotB, y2:plotB + 14.6, stroke:'#000', 'stroke-width':3.3});
  
  
  ticks.appendChild(tk);
  const tl = mk('text', {x:gx, y:1675, 'font-size':41.7, 'text-anchor':'middle'});
  tl.textContent = String(t);
  
  
  ticks.appendChild(tl);
});
yTicks.forEach(function(t){
  const gy = ys(t);
  const gl = mk('line', {x1:plotL, x2:plotR, y1:gy, y2:gy, stroke:'#b0b0b0', 'stroke-width':3.3});
  
  
  grid.appendChild(gl);
  const tk = mk('line', {x1:plotL - 14.6, x2:plotL, y1:gy, y2:gy, stroke:'#000', 'stroke-width':3.3});
  
  
  ticks.appendChild(tk);
  const tl = mk('text', {x:plotL - 29, y:gy + 15, 'font-size':41.7, 'text-anchor':'end'});
  tl.textContent = String(t);
  
  
  ticks.appendChild(tl);
});

const sg = document.getElementById('series');
seriesValues.forEach(function(vals, si){
  const pts = vals.map(function(v, i){ return xs(i * batchSize).toFixed(1) + ',' + ys(v).toFixed(1); }).join(' ');
  const pl = mk('polyline', {points:pts, fill:'none', stroke:seriesColors[si], 'stroke-width':6.25, 'stroke-linejoin':'round', 'stroke-linecap': si < 6 ? 'square' : 'butt'});
  if (si >= 6) pl.setAttribute('stroke-dasharray', '23 10');
  
  
  sg.appendChild(pl);
});

const lg = document.getElementById('legend');
const rowStart = 125.5, rowGap = 62;
seriesNames.concat(extraLegend).forEach(function(name, i){
  const cy = rowStart + i * rowGap;
  if (i < seriesNames.length) {
    const h = mk('line', {x1:4665, x2:4754, y1:cy, y2:cy, stroke:seriesColors[i], 'stroke-width':6.25});
    if (i >= 6) h.setAttribute('stroke-dasharray', '23 10');
    
    
    lg.appendChild(h);
  }
  const t = mk('text', {x:4786, y:cy + 15, 'font-size':41.7});
  t.textContent = name;
  
  
  lg.appendChild(t);
});
</script>
</body></html>
